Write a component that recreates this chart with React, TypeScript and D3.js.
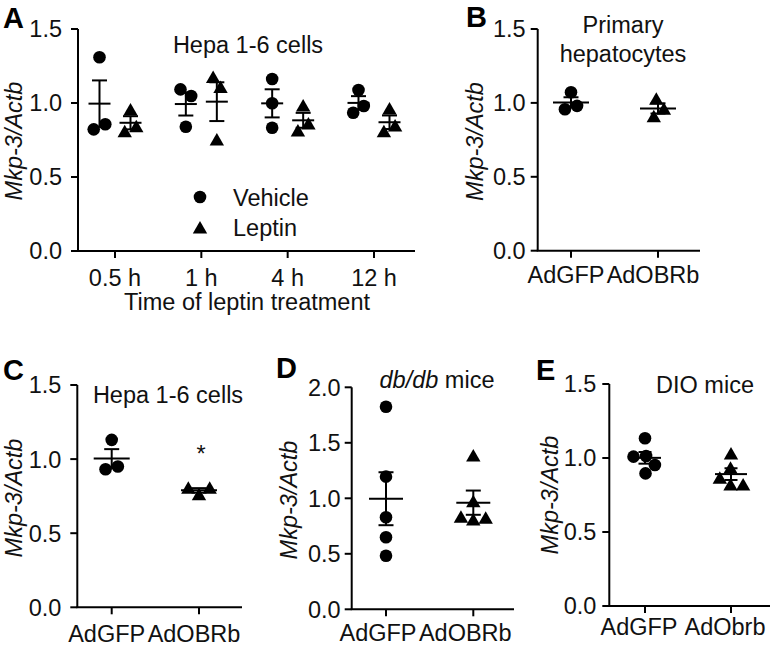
import React from "react";
import * as d3 from "d3";

// ---------- data ----------
const timeCategories = ["0.5 h", "1 h", "4 h", "12 h"];
const hepaVehicle = [
  [1.309, 0.822, 0.856],
  [0.84, 1.092, 1.047],
  [1.162, 0.998, 0.833],
  [1.088, 0.934, 0.98],
];
const hepaLeptin = [
  [0.953, 0.806, 0.84],
  [0.75, 1.173, 1.104],
  [0.98, 0.811, 0.858],
  [0.959, 0.806, 0.845],
];
const adenoCategories = ["AdGFP", "AdOBRb"];
const dioCategories = ["AdGFP", "AdObrb"];
const primaryGFP = [1.072, 0.957, 0.98];
const primaryOBRb = [1.025, 0.957, 0.906];
const hepaGFP = [1.13, 0.932, 0.95];
const hepaOBRb = [0.759, 0.804, 0.804];
const dbdbGFP = [1.825, 1.195, 0.829, 0.649, 0.483];
const dbdbOBRb = [1.381, 0.969, 0.804, 0.82, 0.829];
const dioGFP = [1.133, 1.014, 0.953, 1.009, 0.896];
const dioObrb = [1.027, 0.93, 0.818, 0.818, 0.863];
const ticks15 = [0, 0.5, 1.0, 1.5];
const ticks20 = [0, 0.5, 1.0, 1.5, 2.0];

const FONT = "'Liberation Sans', Arial, Helvetica, sans-serif";
const FS = 23.5;
const R = 6.3;

function beeswarm(values: number[], y: (v: number) => number, r: number): number[] {
  const D = 2 * r;
  const placed: { x: number; y: number }[] = [];
  values.forEach((v) => {
    const py = y(v);
    const cands = [0];
    placed.forEach((p) => {
      const dy = Math.abs(p.y - py);
      if (dy < D) {
        const dx = Math.sqrt(D * D - dy * dy);
        cands.push(p.x + dx, p.x - dx);
      }
    });
    cands.sort((a, b) => Math.abs(a) - Math.abs(b) || b - a);
    const ok = cands.find((c) => placed.every((p) => Math.hypot(p.x - c, p.y - py) >= D - 1e-6));
    placed.push({ x: ok ?? 0, y: py });
  });
  const xs = placed.map((p) => p.x);
  const idx = values.map((_, i) => i).sort((a, b) => placed[a].y - placed[b].y);
  let cluster: number[] = [idx[0]];
  const flush = () => {
    const m = d3.mean(cluster, (i) => xs[i]) as number;
    cluster.forEach((i) => (xs[i] -= m));
  };
  for (let k = 1; k < idx.length; k++) {
    if (placed[idx[k]].y - placed[idx[k - 1]].y < D) cluster.push(idx[k]);
    else {
      flush();
      cluster = [idx[k]];
    }
  }
  flush();
  return xs;
}

function Marker({ x, y, shape }: { x: number; y: number; shape: "circle" | "triangle" }) {
  if (shape === "circle") return <circle cx={x} cy={y} r={R} fill="#000" />;
  return <path d={`M${x},${y - 7}L${x + 7.2},${y + 5.5}L${x - 7.2},${y + 5.5}Z`} fill="#000" />;
}

function Group({
  values, cx, y, shape, meanHalf, capHalf,
}: {
  values: number[]; cx: number; y: d3.ScaleLinear<number, number>; shape: "circle" | "triangle"; meanHalf: number; capHalf: number;
}) {
  const mean = d3.mean(values) as number;
  const sem = (d3.deviation(values) as number) / Math.sqrt(values.length);
  const xs = beeswarm(values, y, R);
  return (
    <g>
      {values.map((v, i) => (
        <Marker key={i} x={cx + xs[i]} y={y(v)} shape={shape} />
      ))}
      <g stroke="#000" strokeWidth={2}>
        <line x1={cx - meanHalf} x2={cx + meanHalf} y1={y(mean)} y2={y(mean)} />
        <line x1={cx} x2={cx} y1={y(mean - sem)} y2={y(mean + sem)} />
        <line x1={cx - capHalf} x2={cx + capHalf} y1={y(mean + sem)} y2={y(mean + sem)} />
        <line x1={cx - capHalf} x2={cx + capHalf} y1={y(mean - sem)} y2={y(mean - sem)} />
      </g>
    </g>
  );
}

function Axes({
  x0, x1, y, ticks, xTicks, labelGap, xLabelDy, xLabelDx, titleX, titleY, letter, letterX, letterY,
}: {
  x0: number; x1: number; y: d3.ScaleLinear<number, number>; ticks: number[]; xTicks: { label: string; x: number }[];
  labelGap: number; xLabelDy: number; xLabelDx: number; titleX: number; titleY: number; letter: string; letterX: number; letterY: number;
}) {
  const [yb, yt] = y.range();
  return (
    <g>
      <g stroke="#000" strokeWidth={2} fill="none">
        <line x1={x0} x2={x0} y1={yb} y2={yt} />
        <line x1={x0 - 1} x2={x1} y1={yb} y2={yb} />
        {ticks.map((t) => (
          <line key={t} x1={x0 - 7} x2={x0} y1={y(t)} y2={y(t)} />
        ))}
        {xTicks.map((t) => (
          <line key={t.label} x1={t.x} x2={t.x} y1={yb} y2={yb + 7} />
        ))}
      </g>
      {ticks.map((t) => (
        <text key={t} x={x0 - labelGap} y={y(t) + 8.4} textAnchor="end" fontSize={FS} fontFamily={FONT} fill="#111">
          {d3.format(".1f")(t)}
        </text>
      ))}
      {xTicks.map((t) => (
        <text key={t.label} x={t.x + xLabelDx} y={yb + xLabelDy} textAnchor="middle" fontSize={FS} fontFamily={FONT} fill="#111">
          {t.label}
        </text>
      ))}
      <text transform={`translate(${titleX},${titleY}) rotate(-90)`} textAnchor="middle" fontSize={FS} fontFamily={FONT} fontStyle="italic" fill="#111">
        Mkp-3/Actb
      </text>
      <text x={letterX} y={letterY} fontSize={29} fontWeight="bold" fontFamily={FONT} fill="#000">
        {letter}
      </text>
    </g>
  );
}

export default function App() {
  // Panel A
  const yA = d3.scaleLinear().domain([0, 1.5]).range([251, 29]);
  const xA = d3.scalePoint<string>().domain(timeCategories).range([115, 374]);
  // Panel B
  const yB = d3.scaleLinear().domain([0, 1.5]).range([250.7, 29]);
  const xB = d3.scalePoint<string>().domain(adenoCategories).range([571, 658]);
  // Panel C
  const yC = d3.scaleLinear().domain([0, 1.5]).range([607.3, 385]);
  const xC = d3.scalePoint<string>().domain(adenoCategories).range([111.7, 199]);
  // Panel D
  const yD = d3.scaleLinear().domain([0, 2]).range([609.3, 387.3]);
  const xD = d3.scalePoint<string>().domain(adenoCategories).range([386, 473.3]);
  // Panel E
  const yE = d3.scaleLinear().domain([0, 1.5]).range([606, 384]);
  const xE = d3.scalePoint<string>().domain(dioCategories).range([645, 731]);

  const off = 15.5;
  const txt = { fontSize: FS, fontFamily: FONT, fill: "#111" } as const;

  return (
    <svg width={772} height={647} style={{ position: "absolute", left: 0, top: 0, background: "#fff" }}>
      <rect width={772} height={647} fill="#fff" />
      {/* Panel A */}
      <Axes x0={78} x1={415} y={yA} ticks={ticks15}
        xTicks={timeCategories.map((c) => ({ label: c, x: xA(c) as number }))}
        labelGap={16} xLabelDy={35} xLabelDx={0} titleX={22} titleY={141} letter="A" letterX={3} letterY={28} />
      {timeCategories.map((c, i) => (
        <g key={c}>
          <Group values={hepaVehicle[i]} cx={(xA(c) as number) - off} y={yA} shape="circle" meanHalf={11} capHalf={7.5} />
          <Group values={hepaLeptin[i]} cx={(xA(c) as number) + off} y={yA} shape="triangle" meanHalf={11} capHalf={7.5} />
        </g>
      ))}
      <text x={248} y={53} textAnchor="middle" {...txt}>Hepa 1-6 cells</text>
      <Marker x={200} y={197} shape="circle" />
      <Marker x={200} y={228} shape="triangle" />
      <text x={233} y={206} {...txt}>Vehicle</text>
      <text x={233} y={236} {...txt}>Leptin</text>
      <text x={247} y={310} textAnchor="middle" {...txt}>Time of leptin treatment</text>

      {/* Panel B */}
      <Axes x0={537.7} x1={700} y={yB} ticks={ticks15}
        xTicks={adenoCategories.map((c) => ({ label: c, x: xB(c) as number }))}
        labelGap={12} xLabelDy={32} xLabelDx={-5} titleX={483} titleY={141.5} letter="B" letterX={466} letterY={27} />
      <Group values={primaryGFP} cx={xB(adenoCategories[0]) as number} y={yB} shape="circle" meanHalf={18} capHalf={7.5} />
      <Group values={primaryOBRb} cx={xB(adenoCategories[1]) as number} y={yB} shape="triangle" meanHalf={18} capHalf={7.5} />
      <text x={623} y={33} textAnchor="middle" {...txt}>Primary</text>
      <text x={623} y={61.7} textAnchor="middle" {...txt}>hepatocytes</text>

      {/* Panel C */}
      <Axes x0={77.3} x1={242} y={yC} ticks={ticks15}
        xTicks={adenoCategories.map((c) => ({ label: c, x: xC(c) as number }))}
        labelGap={16} xLabelDy={34.5} xLabelDx={-5} titleX={22} titleY={498} letter="C" letterX={3} letterY={380} />
      <Group values={hepaGFP} cx={xC(adenoCategories[0]) as number} y={yC} shape="circle" meanHalf={18} capHalf={7.5} />
      <Group values={hepaOBRb} cx={xC(adenoCategories[1]) as number} y={yC} shape="triangle" meanHalf={18} capHalf={7.5} />
      <text x={168} y={403} textAnchor="middle" {...txt}>Hepa 1-6 cells</text>
      <text x={201} y={462} textAnchor="middle" {...txt}>*</text>

      {/* Panel D */}
      <Axes x0={351.7} x1={514} y={yD} ticks={ticks20}
        xTicks={adenoCategories.map((c) => ({ label: c, x: xD(c) as number }))}
        labelGap={11} xLabelDy={32} xLabelDx={-8} titleX={297} titleY={500} letter="D" letterX={276} letterY={378} />
      <Group values={dbdbGFP} cx={xD(adenoCategories[0]) as number} y={yD} shape="circle" meanHalf={17} capHalf={7.5} />
      <Group values={dbdbOBRb} cx={xD(adenoCategories[1]) as number} y={yD} shape="triangle" meanHalf={17} capHalf={7.5} />
      <text x={437} y={388} textAnchor="middle" {...txt}>
        <tspan fontStyle="italic">db/db</tspan> mice
      </text>

      {/* Panel E */}
      <Axes x0={609.3} x1={770} y={yE} ticks={ticks15}
        xTicks={dioCategories.map((c) => ({ label: c, x: xE(c) as number }))}
        labelGap={13} xLabelDy={29} xLabelDx={-6} titleX={558} titleY={495} letter="E" letterX={536} letterY={380} />
      <Group values={dioGFP} cx={xE(dioCategories[0]) as number} y={yE} shape="circle" meanHalf={16} capHalf={6.5} />
      <Group values={dioObrb} cx={xE(dioCategories[1]) as number} y={yE} shape="triangle" meanHalf={16} capHalf={6.5} />
      <text x={705} y={393} textAnchor="middle" {...txt}>DIO mice</text>
    </svg>
  );
}
